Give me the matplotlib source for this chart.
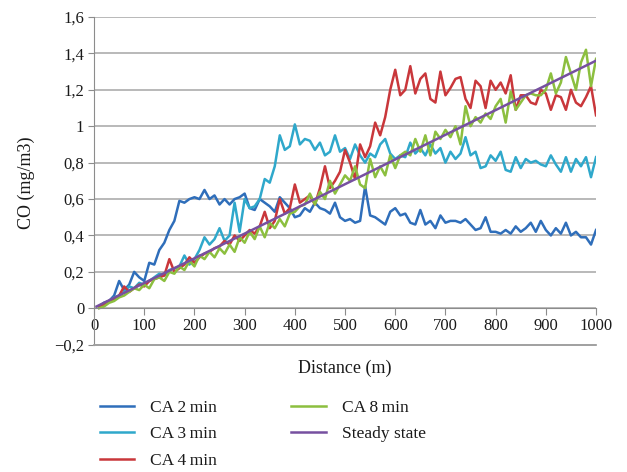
import numpy as np
import matplotlib
matplotlib.use("Agg")
import matplotlib.pyplot as plt
from matplotlib.lines import Line2D

plt.rcParams['font.family'] = ['Liberation Serif', 'DejaVu Serif']

# distance (m), one sample every 10 m
distance = list(range(10, 1001, 10))

ca_2min = [0.01, 0.03, 0.04, 0.07, 0.15, 0.10, 0.13, 0.20, 0.17, 0.15,
           0.25, 0.24, 0.32, 0.36, 0.43, 0.48, 0.59, 0.58, 0.60, 0.61,
           0.60, 0.65, 0.60, 0.62, 0.57, 0.60, 0.57, 0.60, 0.61, 0.63,
           0.55, 0.54, 0.60, 0.58, 0.56, 0.53, 0.61, 0.58, 0.55, 0.50,
           0.51, 0.55, 0.53, 0.58, 0.55, 0.54, 0.52, 0.58, 0.50, 0.48,
           0.49, 0.47, 0.48, 0.67, 0.51, 0.50, 0.48, 0.46, 0.53, 0.55,
           0.51, 0.52, 0.47, 0.46, 0.54, 0.46, 0.48, 0.44, 0.51, 0.47,
           0.48, 0.48, 0.47, 0.49, 0.46, 0.43, 0.44, 0.50, 0.42, 0.42,
           0.41, 0.43, 0.41, 0.45, 0.42, 0.44, 0.47, 0.42, 0.48, 0.43,
           0.40, 0.44, 0.41, 0.47, 0.40, 0.42, 0.39, 0.39, 0.35, 0.43]

ca_3min = [0.01, 0.03, 0.04, 0.06, 0.07, 0.09, 0.12, 0.11, 0.14, 0.13,
           0.15, 0.17, 0.19, 0.18, 0.21, 0.22, 0.23, 0.29, 0.24, 0.27,
           0.32, 0.39, 0.35, 0.38, 0.44, 0.37, 0.40, 0.58, 0.42, 0.60,
           0.55, 0.56, 0.60, 0.71, 0.69, 0.78, 0.95, 0.87, 0.89, 1.01,
           0.90, 0.93, 0.92, 0.87, 0.91, 0.84, 0.86, 0.95, 0.86, 0.88,
           0.82, 0.90, 0.84, 0.80, 0.85, 0.83, 0.90, 0.93, 0.85, 0.82,
           0.84, 0.83, 0.91, 0.85, 0.88, 0.84, 0.90, 0.85, 0.88, 0.80,
           0.86, 0.82, 0.85, 0.94, 0.84, 0.86, 0.77, 0.78, 0.84, 0.81,
           0.86, 0.76, 0.75, 0.83, 0.77, 0.82, 0.80, 0.81, 0.79, 0.78,
           0.84, 0.79, 0.75, 0.83, 0.75, 0.82, 0.78, 0.83, 0.72, 0.83]

ca_4min = [0.01, 0.02, 0.04, 0.05, 0.07, 0.12, 0.09, 0.11, 0.13, 0.12,
           0.15, 0.16, 0.17, 0.18, 0.27, 0.20, 0.22, 0.24, 0.28, 0.25,
           0.28, 0.30, 0.31, 0.33, 0.34, 0.37, 0.35, 0.40, 0.37, 0.40,
           0.43, 0.41, 0.45, 0.53, 0.44, 0.48, 0.60, 0.52, 0.55, 0.68,
           0.58, 0.60, 0.62, 0.57, 0.66, 0.78, 0.66, 0.70, 0.75, 0.87,
           0.80, 0.71, 0.90, 0.83, 0.89, 1.02, 0.95, 1.05, 1.20, 1.31,
           1.17, 1.20, 1.33, 1.18, 1.26, 1.29, 1.15, 1.13, 1.30, 1.17,
           1.21, 1.26, 1.27, 1.15, 1.10, 1.25, 1.22, 1.10, 1.25, 1.20,
           1.24, 1.18, 1.28, 1.09, 1.17, 1.17, 1.13, 1.12, 1.20, 1.18,
           1.09, 1.17, 1.16, 1.09, 1.20, 1.13, 1.11, 1.16, 1.22, 1.06]

ca_8min = [0.00, 0.01, 0.03, 0.04, 0.06, 0.07, 0.09, 0.11, 0.10, 0.13,
           0.11, 0.16, 0.17, 0.15, 0.20, 0.19, 0.23, 0.21, 0.26, 0.23,
           0.29, 0.27, 0.31, 0.28, 0.33, 0.30, 0.35, 0.31, 0.39, 0.36,
           0.42, 0.38, 0.45, 0.39, 0.47, 0.44, 0.49, 0.45, 0.52, 0.53,
           0.56, 0.57, 0.63, 0.57, 0.64, 0.60, 0.70, 0.63, 0.68, 0.73,
           0.70, 0.78, 0.68, 0.66, 0.82, 0.72, 0.78, 0.73, 0.84, 0.77,
           0.84, 0.86, 0.84, 0.93, 0.86, 0.95, 0.84, 0.97, 0.93, 0.98,
           0.94, 1.00, 0.90, 1.11, 1.00, 1.05, 1.02, 1.07, 1.04, 1.11,
           1.15, 1.02, 1.19, 1.09, 1.13, 1.17, 1.18, 1.17, 1.17, 1.20,
           1.29, 1.18, 1.24, 1.38, 1.29, 1.20, 1.35, 1.42, 1.22, 1.37]

steady_x = [5, 1000]
steady = [0.01, 1.36]

y_ticks = [-0.2, 0, 0.2, 0.4, 0.6, 0.8, 1.0, 1.2, 1.4, 1.6]
y_labels = ['\u22120,2', '0', '0,2', '0,4', '0,6', '0,8', '1', '1,2', '1,4', '1,6']
x_ticks = list(range(0, 1001, 100))

fig = plt.figure(figsize=(6.27, 4.72), dpi=100)
ax = fig.add_axes([0.150, 0.262, 0.8006, 0.702])

lw = 1.8
ax.plot(distance, ca_2min, color='#2F6EBA', lw=lw, label='CA 2\u2009min')
ax.plot(distance, ca_3min, color='#2FA8CB', lw=lw, label='CA 3\u2009min')
ax.plot(distance, ca_4min, color='#C9373B', lw=lw, label='CA 4\u2009min')
ax.plot(distance, ca_8min, color='#8CBF3F', lw=lw, label='CA 8\u2009min')
ax.plot(steady_x, steady, color='#7650A0', lw=lw, label='Steady state')

ax.set_xlim(0, 1000)
ax.set_ylim(-0.22, 1.6)
ax.set_yticks(y_ticks)
ax.set_yticklabels(y_labels)
ax.set_xticks(x_ticks)

ax.grid(axis='y', color='#A6A6A6', lw=1.1)
ax.set_axisbelow(True)

# bottom frame line at -0.2, drawn on top so nothing hides it
bottom_line = Line2D([0, 1], [-0.2, -0.2], transform=ax.get_yaxis_transform(),
                     color='#A0A0A0', lw=1.3, clip_on=False, zorder=10)
ax.add_artist(bottom_line)

for s in ['top', 'right']:
    ax.spines[s].set_visible(False)
ax.spines['left'].set_color('#8C8C8C')
ax.spines['left'].set_bounds(-0.2, 1.6)
ax.spines['bottom'].set_color('#8C8C8C')
ax.spines['bottom'].set_position(('data', 0))

ax.tick_params(axis='both', labelsize=12, colors='#8C8C8C', labelcolor='#1A1A1A')
ax.tick_params(axis='x', direction='out', length=5, pad=2)
ax.tick_params(axis='y', direction='out', length=4, pad=3)

ax.set_xlabel('Distance (m)', fontsize=13, color='#1A1A1A')
ax.set_ylabel('CO (mg/m3)', fontsize=13, color='#1A1A1A', labelpad=14)
ax.xaxis.set_label_coords(0.5, -0.035)

leg = fig.legend(loc='upper left', bbox_to_anchor=(0.145, 0.172), ncol=2,
                 frameon=False, fontsize=12.5, handlelength=2.0, handletextpad=0.9,
                 columnspacing=4.3, labelspacing=0.6, borderpad=0)
for t in leg.get_texts():
    t.set_color('#1A1A1A')

fig.savefig('out.png', dpi=100)
